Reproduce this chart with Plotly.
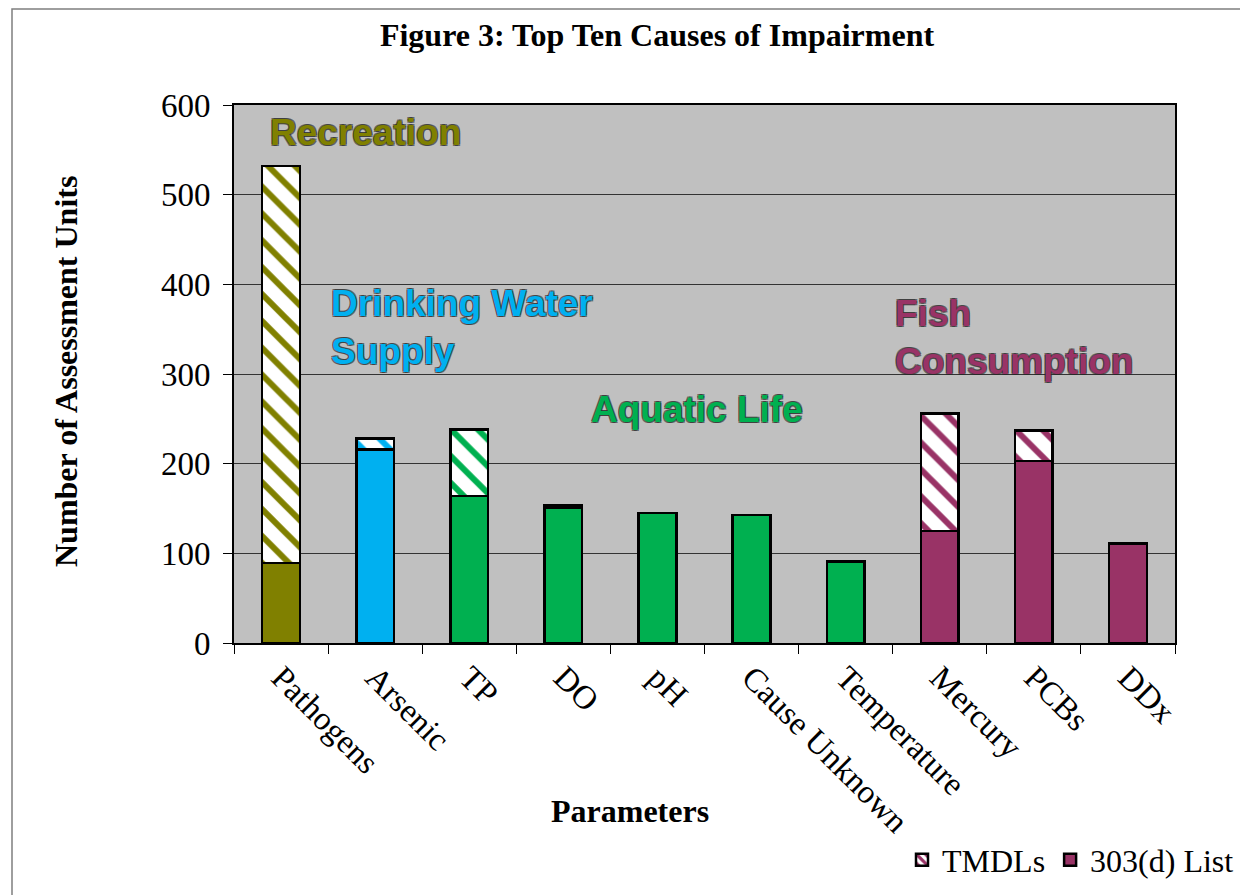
import plotly.graph_objects as go

# Data
parameters = ["Pathogens", "Arsenic", "TP", "DO", "pH", "Cause Unknown",
              "Temperature", "Mercury", "PCBs", "DDx"]
list_303d = [89, 216, 164, 151, 145, 143, 91, 125, 203, 111]
tmdls = [443, 12, 74, 3, 0, 0, 0, 131, 34, 0]

# Designated use colours
OLIVE = "#808000"
BLUE = "#00B0F0"
GREEN = "#00B050"
MAROON = "#993366"
bar_colors = [OLIVE, BLUE, GREEN, GREEN, GREEN, GREEN, GREEN, MAROON, MAROON, MAROON]

SERIF = "Liberation Serif, Times New Roman, serif"
SANS = "Liberation Sans, Arial, sans-serif"

# page body has an 8px margin, so work in page pixels and shift
OFF = 8
FW, FH = 1248, 895
# plot area in page pixels (from the reference)
L, R, T, B = 234, 1175, 105, 643
W, H = R - L, B - T


def px(x):
    return (x - L) / W


def py(y):
    return (B - y) / H


fig = go.Figure()

fig.add_trace(go.Bar(
    x=parameters, y=list_303d, name="303(d) List", showlegend=False,
    marker=dict(color=bar_colors, line=dict(color="black", width=2.5)),
))
fig.add_trace(go.Bar(
    x=parameters, y=tmdls, name="TMDLs", showlegend=False,
    marker=dict(
        color="white",
        line=dict(color="black", width=2.5),
        pattern=dict(shape="\\", fgcolor=bar_colors, bgcolor="white",
                     size=19, solidity=0.32, fillmode="replace"),
    ),
))

# legend-only entries (legend swatches use the fish consumption colour)
fig.add_trace(go.Bar(
    x=[parameters[0]], y=[None], name="TMDLs", legendrank=1,
    marker=dict(color="white", line=dict(color="black", width=2.5),
                pattern=dict(shape="\\", fgcolor=MAROON, bgcolor="white",
                             size=8, solidity=0.5, fillmode="replace")),
))
fig.add_trace(go.Bar(
    x=[parameters[0]], y=[None], name="303(d) List", legendrank=2,
    marker=dict(color=MAROON, line=dict(color="black", width=2.5)),
))

outline = ("-1px -1px 0 rgba(40,40,40,0.6), 1px -1px 0 rgba(40,40,40,0.6), "
           "-1px 1px 0 rgba(40,40,40,0.6), 1px 1px 0 rgba(40,40,40,0.6)")


def use_label(text, x, y, color):
    fig.add_annotation(
        text=text, xref="paper", yref="paper", x=px(x), y=py(y),
        xanchor="left", yanchor="middle", align="left", showarrow=False,
        font=dict(family=SANS, size=37, color=color, weight="bold", shadow=outline),
    )


use_label("Recreation", 268, 133, OLIVE)
use_label("Drinking Water<br>Supply", 329, 327, BLUE)
use_label("Aquatic Life", 589, 409, GREEN)
use_label("Fish<br>Consumption", 893, 337, MAROON)

# axis titles
fig.add_annotation(
    text="<b>Number of Assessment Units</b>", xref="paper", yref="paper",
    x=px(66), y=py(372), textangle=-90, showarrow=False,
    xanchor="center", yanchor="middle", font=dict(family=SERIF, size=32, color="black"),
)
fig.add_annotation(
    text="<b>Parameters</b>", xref="paper", yref="paper",
    x=px(630), y=py(811), showarrow=False,
    xanchor="center", yanchor="middle", font=dict(family=SERIF, size=32, color="black"),
)

# outer chart border
fig.add_shape(type="rect", xref="paper", yref="paper",
              x0=px(12), x1=px(1270), y0=py(920), y1=py(9),
              line=dict(color="#7f7f7f", width=1.5), layer="below")

fig.update_layout(
    width=FW, height=FH,
    barmode="stack", bargap=0.6,
    paper_bgcolor="white", plot_bgcolor="#C0C0C0",
    margin=dict(l=L - OFF, r=FW - R + OFF, t=T - OFF, b=FH - B + OFF),
    font=dict(family=SERIF, color="black"),
    title=dict(text="<b>Figure 3: Top Ten Causes of Impairment</b>",
               x=(657 - OFF) / FW, xanchor="center", y=1 - (35 - OFF) / FH, yanchor="middle",
               xref="container", yref="container",
               font=dict(family=SERIF, size=32, color="black")),
    legend=dict(orientation="h", x=px(1239), xanchor="right", y=py(860), yanchor="middle",
                font=dict(family=SERIF, size=32, color="black"),
                itemwidth=30, traceorder="normal", bgcolor="rgba(0,0,0,0)"),
    xaxis=dict(
        showline=True, linecolor="black", linewidth=2, mirror=True,
        ticks="outside", tickson="boundaries", ticklen=9, tickcolor="black", tickwidth=1,
        tickangle=45, tickfont=dict(family=SERIF, size=33, color="black"),
        showgrid=False,
    ),
    yaxis=dict(
        range=[0, 600], dtick=100,
        showline=True, linecolor="black", linewidth=2, mirror=True,
        ticks="outside", ticklen=9, tickcolor="black", tickwidth=1,
        tickfont=dict(family=SERIF, size=33, color="black"),
        showgrid=True, gridcolor="#333333", gridwidth=1,
        zeroline=False, ticklabelstandoff=6,
    ),
)

fig.write_html("out.html")
